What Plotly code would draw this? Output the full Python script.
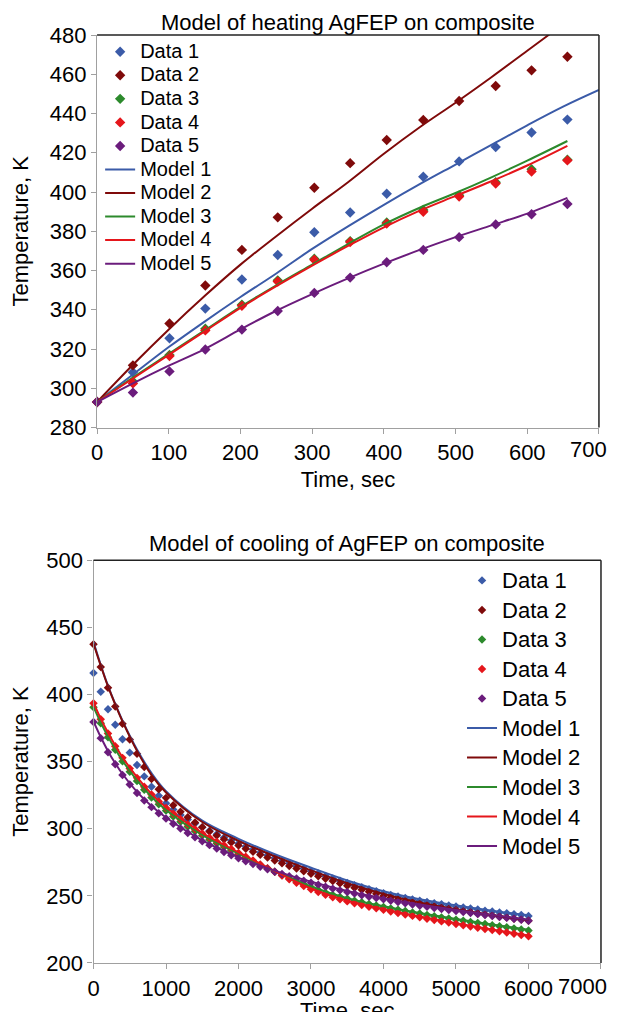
import plotly.graph_objects as go

# ---------------- Heating (top) ----------------
heat_t = [0, 50, 101, 151, 202, 252, 303, 353, 404, 455, 505, 556, 606, 656]
heat_data1 = [293, 308.2, 325.5, 340.6, 355.4, 367.9, 379.5, 389.6, 399.1, 407.8, 415.6, 422.9, 430.3, 436.9]
heat_data2 = [293, 311.7, 333.0, 352.4, 370.5, 387.1, 402.2, 414.7, 426.5, 436.7, 446.4, 454.0, 462.0, 468.9]
heat_data3 = [293, 303.5, 317.0, 330.3, 342.6, 355.0, 366.0, 375.0, 384.5, 390.8, 398.3, 405.0, 411.6, 416.5]
heat_data4 = [293, 302.5, 316.4, 329.5, 342.0, 354.4, 365.5, 374.5, 383.9, 389.9, 397.7, 404.3, 410.4, 416.1]
heat_data5 = [293, 297.8, 308.6, 319.8, 329.9, 339.4, 348.6, 356.4, 364.2, 370.5, 377.0, 383.5, 388.7, 393.9]

heat_model_t_long = [0, 50, 100, 150, 200, 250, 300, 350, 400, 450, 500, 550, 600, 650, 700]
heat_model1 = [293, 307, 321, 334, 346.5, 358.5, 371, 382.5, 393.5, 404, 414, 424, 434, 443.5, 452]
heat_model2 = [293, 312, 330, 347, 363, 377.5, 391.5, 405, 419.5, 433, 445.5, 458.5, 472, 485.5, 499]
heat_model_t_short = [0, 50, 100, 150, 200, 250, 300, 350, 400, 450, 500, 550, 600, 656]
heat_model3 = [293, 305.5, 317.5, 329.5, 341.5, 352.5, 363, 373.5, 383.5, 392, 399.5, 407.5, 416, 426]
heat_model4 = [293, 305, 317, 329, 341, 352, 362.5, 372.5, 382, 390.5, 398, 405.5, 413.5, 423.5]
heat_model5 = [293, 302.5, 311.5, 320, 330, 339.5, 348, 356, 363.5, 370.5, 377, 383, 389, 397]

# ---------------- Cooling (bottom) ----------------
cool_t = list(range(0, 6001, 100))
cool_data1 = [416.0, 402.0, 389.0, 377.5, 366.7, 356.7, 347.5, 339.0, 331.3, 324.6,
              319.0, 314.3, 310.3, 306.9, 303.9, 301.2, 298.5, 295.9, 293.4, 291.2,
              289.1, 286.8, 284.5, 282.4, 280.3, 278.2, 276.2, 274.2, 272.3, 270.4,
              268.5, 266.6, 264.8, 263.0, 261.3, 259.6, 258.0, 256.5, 255.0, 253.5,
              252.0, 250.7, 249.5, 248.4, 247.4, 246.4, 245.4, 244.5, 243.7, 242.9,
              242.1, 241.3, 240.6, 239.8, 239.0, 238.3, 237.6, 237.0, 236.3, 235.7,
              235.0]
cool_data2 = [437.5, 420.5, 405.0, 391.0, 378.2, 366.5, 355.8, 346.0, 337.1, 329.4,
              323.0, 317.5, 312.7, 308.5, 304.7, 301.2, 298.0, 295.0, 292.2, 289.8,
              287.5, 285.1, 282.8, 280.6, 278.5, 276.4, 274.3, 272.3, 270.4, 268.4,
              266.5, 264.6, 262.8, 261.0, 259.3, 257.6, 256.0, 254.5, 253.0, 251.5,
              250.0, 248.7, 247.4, 246.2, 245.1, 244.1, 243.1, 242.1, 241.2, 240.3,
              239.5, 238.6, 237.8, 236.9, 236.1, 235.3, 234.5, 233.8, 233.0, 232.3,
              231.5]
cool_data3 = [390.5, 378.6, 368.2, 358.8, 350.2, 342.4, 335.5, 329.0, 323.3, 318.2,
              313.5, 309.2, 305.2, 301.5, 298.1, 294.9, 291.9, 289.1, 286.5, 283.8,
              281.0, 278.4, 275.7, 273.0, 270.4, 267.9, 265.4, 263.0, 260.7, 258.6,
              256.5, 254.4, 252.4, 250.7, 249.2, 247.8, 246.4, 245.2, 244.0, 242.8,
              241.8, 240.7, 239.7, 238.7, 237.7, 236.8, 235.8, 234.9, 234.0, 233.2,
              232.3, 231.4, 230.6, 229.8, 229.0, 228.2, 227.4, 226.6, 225.8, 225.0,
              224.2]
cool_data4 = [393.5, 381.5, 371.0, 361.5, 352.8, 344.9, 337.9, 331.3, 325.5, 320.3,
              315.5, 311.1, 307.0, 303.2, 299.7, 296.4, 293.3, 290.4, 287.7, 284.9,
              282.0, 279.2, 276.3, 273.4, 270.6, 267.9, 265.1, 262.4, 259.8, 257.4,
              255.0, 252.8, 250.8, 249.0, 247.4, 245.9, 244.5, 243.2, 241.9, 240.7,
              239.6, 238.4, 237.3, 236.2, 235.1, 234.1, 233.0, 232.0, 231.0, 230.1,
              229.1, 228.1, 227.2, 226.3, 225.4, 224.5, 223.6, 222.7, 221.8, 220.9,
              220.0]
cool_data5 = [379.5, 367.5, 357.0, 348.0, 340.0, 333.0, 326.7, 321.1, 316.1, 311.6,
              307.6, 303.8, 300.2, 296.8, 293.6, 290.6, 287.8, 285.2, 282.7, 280.3,
              278.0, 275.8, 273.7, 271.7, 269.8, 268.0, 266.3, 264.6, 262.9, 261.3,
              259.8, 258.3, 256.8, 255.4, 254.1, 252.9, 251.7, 250.5, 249.4, 248.4,
              247.4, 246.4, 245.5, 244.5, 243.6, 242.7, 241.9, 241.0, 240.2, 239.4,
              238.7, 237.9, 237.2, 236.4, 235.7, 235.0, 234.3, 233.6, 232.9, 232.2,
              231.5]

cool_model_t = [0, 100, 200, 300, 400, 600, 800, 1000, 1500, 2000, 2500, 3000, 3500,
                4000, 4500, 5000, 5500, 6000]
cool_model1 = [439.0, 422.0, 406.5, 393.0, 380.5, 359.0, 341.5, 328.0, 306.0, 292.5, 281.0,
               271.0, 261.5, 253.5, 247.5, 243.0, 239.0, 235.5]
cool_model2 = [438.0, 421.5, 406.0, 392.5, 380.0, 358.0, 340.0, 327.0, 305.0, 291.0, 279.5,
               269.0, 259.5, 251.5, 245.0, 240.0, 235.8, 232.0]
cool_model3 = [391.0, 379.1, 368.7, 359.3, 350.7, 336.0, 323.8, 314.0, 295.4, 281.5, 268.4,
               257.0, 248.3, 242.3, 237.3, 232.8, 228.7, 224.7]
cool_model4 = [394.0, 382.0, 371.5, 362.0, 353.3, 338.4, 326.0, 316.0, 296.9, 282.5, 268.4,
               255.5, 246.4, 240.1, 234.6, 229.6, 225.0, 220.5]
cool_model5 = [380.0, 368.3, 357.8, 348.8, 340.8, 327.5, 316.9, 308.4, 291.4, 278.8, 268.8,
               260.6, 253.7, 248.2, 243.5, 239.5, 235.8, 232.3]

series_names = ["1", "2", "3", "4", "5"]
colors = ["#3B5BA8", "#7F0A0A", "#2C8A2C", "#E5161B", "#6B1C7C"]

heat_tick_x = [0, 100, 200, 300, 400, 500, 600, 700]
heat_tick_y = [280, 300, 320, 340, 360, 380, 400, 420, 440, 460, 480]
cool_tick_x = [0, 1000, 2000, 3000, 4000, 5000, 6000, 7000]
cool_tick_y = [200, 250, 300, 350, 400, 450, 500]

FONT = "Liberation Sans, Arial, Helvetica, sans-serif"


def label(text, px):
    # legend label rendered at px while the legend row pitch follows the legend font size
    return "<span style='font-size:%dpx'>%s</span>" % (px, text)


fig = go.Figure()

heat_data = [heat_data1, heat_data2, heat_data3, heat_data4, heat_data5]
heat_models = [(heat_model_t_long, heat_model1), (heat_model_t_long, heat_model2),
               (heat_model_t_short, heat_model3), (heat_model_t_short, heat_model4),
               (heat_model_t_short, heat_model5)]
for i, d in enumerate(heat_data):
    fig.add_trace(go.Scatter(x=heat_t, y=d, mode="markers",
                             name=label("Data " + series_names[i], 20),
                             marker=dict(symbol="diamond", size=8, color=colors[i]),
                             cliponaxis=False, xaxis="x", yaxis="y", legend="legend"))
for i, (tt, m) in enumerate(heat_models):
    fig.add_trace(go.Scatter(x=tt, y=m, mode="lines",
                             name=label("Model " + series_names[i], 20),
                             line=dict(color=colors[i], width=2, shape="spline"),
                             xaxis="x", yaxis="y", legend="legend"))

cool_data = [cool_data1, cool_data2, cool_data3, cool_data4, cool_data5]
cool_models = [cool_model1, cool_model2, cool_model3, cool_model4, cool_model5]
for i, d in enumerate(cool_data):
    fig.add_trace(go.Scatter(x=cool_t, y=d, mode="markers",
                             name=label("Data " + series_names[i], 22),
                             marker=dict(symbol="diamond", size=6.5, color=colors[i]),
                             cliponaxis=False, xaxis="x2", yaxis="y2", legend="legend2"))
for i, m in enumerate(cool_models):
    fig.add_trace(go.Scatter(x=cool_model_t, y=m, mode="lines",
                             name=label("Model " + series_names[i], 22),
                             line=dict(color=colors[i], width=2, shape="spline"),
                             xaxis="x2", yaxis="y2", legend="legend2"))

AX_GRAY = "#A0A0A0"
TICK_FONT = dict(family=FONT, size=22, color="black")
axis_common = dict(showline=True, linecolor=AX_GRAY, linewidth=1.3, ticks="outside",
                   tickcolor=AX_GRAY, ticklen=5, tickwidth=1.2, showgrid=False,
                   zeroline=False, tickfont=TICK_FONT,
                   title_font=dict(family=FONT, size=22, color="black"))

fig.update_layout(
    width=602, height=1015,
    margin=dict(l=85, r=8, t=27, b=60.3),
    paper_bgcolor="white", plot_bgcolor="white",
    font=dict(family=FONT, color="black"),
    xaxis=dict(domain=[0.008, 0.994], range=[0, 700], tickvals=heat_tick_x,
               title=dict(text="Time, sec", standoff=7), anchor="y", **axis_common),
    yaxis=dict(domain=[0.577, 1.0], range=[280, 480], tickvals=heat_tick_y,
               title_text="Temperature, K", anchor="x", **axis_common),
    xaxis2=dict(domain=[0.001, 0.998], range=[0, 7000], tickvals=cool_tick_x,
                title=dict(text="Time, sec", standoff=0), anchor="y2", **axis_common),
    yaxis2=dict(domain=[0.0, 0.434], range=[200, 500], tickvals=cool_tick_y,
                title_text="Temperature, K", anchor="x2", **axis_common),
    legend=dict(x=0.014, y=1.0, xanchor="left", yanchor="top", bgcolor="rgba(0,0,0,0)",
                font=dict(family=FONT, size=15.8, color="black"), tracegroupgap=0),
    legend2=dict(x=0.725, y=0.4336, xanchor="left", yanchor="top", bgcolor="rgba(0,0,0,0)",
                 font=dict(family=FONT, size=20.4, color="black"), tracegroupgap=0),
    showlegend=True,
    annotations=[
        dict(text="Model of heating AgFEP on composite", x=0.501, y=1.0139, xref="paper",
             yref="paper", xanchor="center", yanchor="middle", showarrow=False,
             font=dict(family=FONT, size=22, color="black")),
        dict(text="Model of cooling of AgFEP on composite", x=0.499, y=0.4524, xref="paper",
             yref="paper", xanchor="center", yanchor="middle", showarrow=False,
             font=dict(family=FONT, size=22, color="black")),
        # last tick labels sit on the window edge, where plotly hides them; keep them in view
        dict(text=str(heat_tick_x[-1]), x=1.0137, y=0.5534, xref="paper", yref="paper",
             xanchor="right", yanchor="middle", showarrow=False, font=TICK_FONT),
        dict(text=str(cool_tick_x[-1]), x=1.0137, y=-0.0252, xref="paper", yref="paper",
             xanchor="right", yanchor="middle", showarrow=False, font=TICK_FONT),
    ],
    shapes=[
        dict(type="line", xref="x domain", yref="y domain", x0=0, x1=1, y0=1, y1=1,
             line=dict(color="#222222", width=1.5)),
        dict(type="line", xref="x domain", yref="y domain", x0=1, x1=1, y0=0, y1=1,
             line=dict(color="#222222", width=1.5)),
        dict(type="line", xref="x2 domain", yref="y2 domain", x0=0, x1=1, y0=1, y1=1,
             line=dict(color="#222222", width=1.5)),
        dict(type="line", xref="x2 domain", yref="y2 domain", x0=1, x1=1, y0=0, y1=1,
             line=dict(color="#222222", width=1.5)),
    ],
)

fig.write_html("out.html", config={"displayModeBar": False})
